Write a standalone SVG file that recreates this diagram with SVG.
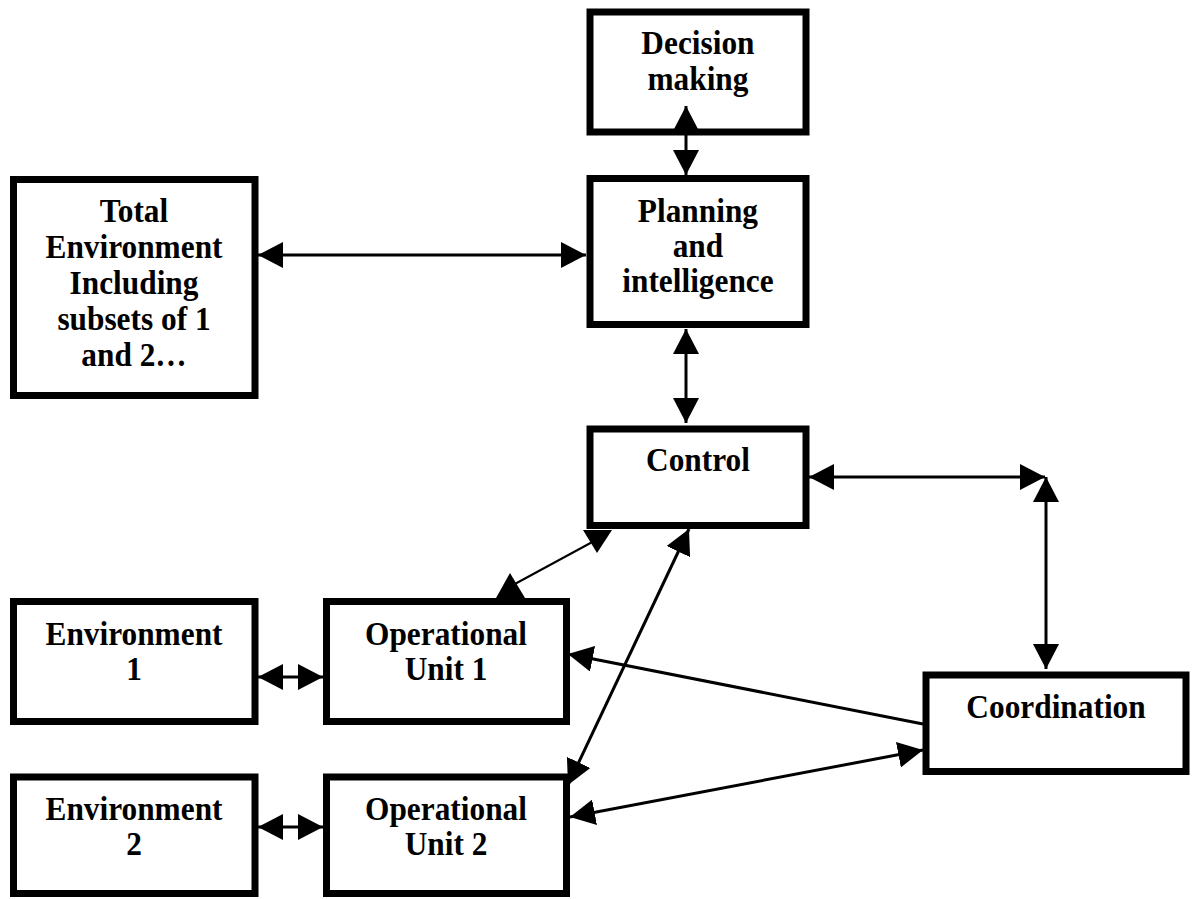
<svg xmlns="http://www.w3.org/2000/svg" width="1192" height="899" viewBox="0 0 1192 899">
<defs>
<style>
.box{fill:#fff;stroke:#000;stroke-width:7}
.lbl{font-family:"Liberation Serif","Times New Roman",serif;font-weight:bold;font-size:33px;fill:#000;text-anchor:middle}
.c{stroke:#000;stroke-width:3;fill:none}
.thin{stroke:#000;stroke-width:2;fill:none}
.head{fill:#000;stroke:none}
</style>
<marker id="ah" viewBox="0 0 25 26" refX="25" refY="13" markerWidth="25" markerHeight="26" markerUnits="userSpaceOnUse" orient="auto-start-reverse">
<path d="M0,0 L25,13 L0,26 z" fill="#000"/>
</marker>
</defs>
<rect width="1192" height="899" fill="#fff"/>

<g id="decision">
<rect class="box" x="590" y="12" width="216" height="120"/>
<text class="lbl" transform="scale(0.95,1)" x="734.7" y="54">Decision</text>
<text class="lbl" transform="scale(0.95,1)" x="734.7" y="90">making</text>
</g>
<g id="planning">
<rect class="box" x="590" y="178.5" width="216" height="146"/>
<text class="lbl" transform="scale(0.95,1)" x="734.7" y="222">Planning</text>
<text class="lbl" transform="scale(0.95,1)" x="734.7" y="257">and</text>
<text class="lbl" transform="scale(0.95,1)" x="734.7" y="292">intelligence</text>
</g>
<g id="total">
<rect class="box" x="13.5" y="179.5" width="241.5" height="216"/>
<text class="lbl" transform="scale(0.95,1)" x="141.05" y="222">Total</text>
<text class="lbl" transform="scale(0.95,1)" x="141.05" y="258">Environment</text>
<text class="lbl" transform="scale(0.95,1)" x="141.05" y="294">Including</text>
<text class="lbl" transform="scale(0.95,1)" x="141.05" y="330">subsets of 1</text>
<text class="lbl" transform="scale(0.95,1)" x="141.05" y="366">and 2…</text>
</g>
<g id="control">
<rect class="box" x="590" y="429" width="216" height="96.5"/>
<text class="lbl" transform="scale(0.95,1)" x="734.7" y="471">Control</text>
</g>
<g id="env1">
<rect class="box" x="13.5" y="601.5" width="241.5" height="120"/>
<text class="lbl" transform="scale(0.95,1)" x="141.05" y="645">Environment</text>
<text class="lbl" transform="scale(0.95,1)" x="141.05" y="680">1</text>
</g>
<g id="op1">
<rect class="box" x="326.5" y="601.5" width="240" height="120"/>
<text class="lbl" transform="scale(0.95,1)" x="469.5" y="645">Operational</text>
<text class="lbl" transform="scale(0.95,1)" x="469.5" y="680">Unit 1</text>
</g>
<g id="env2">
<rect class="box" x="13.5" y="777" width="241.5" height="116.5"/>
<text class="lbl" transform="scale(0.95,1)" x="141.05" y="820">Environment</text>
<text class="lbl" transform="scale(0.95,1)" x="141.05" y="855">2</text>
</g>
<g id="op2">
<rect class="box" x="326.5" y="777" width="240" height="116.5"/>
<text class="lbl" transform="scale(0.95,1)" x="469.5" y="820">Operational</text>
<text class="lbl" transform="scale(0.95,1)" x="469.5" y="855">Unit 2</text>
</g>
<g id="coordination">
<rect class="box" x="926" y="675" width="260" height="96.5"/>
<text class="lbl" transform="scale(0.95,1)" x="1111.6" y="718">Coordination</text>
</g>

<g id="connectors">
<line class="c" x1="686" y1="106" x2="686" y2="175" marker-start="url(#ah)" marker-end="url(#ah)"/>
<line class="c" x1="258" y1="255" x2="586" y2="255" marker-start="url(#ah)" marker-end="url(#ah)"/>
<line class="c" x1="686" y1="329" x2="686" y2="423" marker-start="url(#ah)" marker-end="url(#ah)"/>
<line class="c" x1="809" y1="477" x2="1045" y2="477" marker-start="url(#ah)" marker-end="url(#ah)"/>
<line class="c" x1="1046" y1="477" x2="1046" y2="669" marker-start="url(#ah)" marker-end="url(#ah)"/>
<line class="c" x1="258" y1="677" x2="323" y2="677" marker-start="url(#ah)" marker-end="url(#ah)"/>
<line class="c" x1="258" y1="827" x2="323" y2="827" marker-start="url(#ah)" marker-end="url(#ah)"/>
<line class="thin" x1="513" y1="585" x2="596" y2="540"/>
<polygon class="head" points="510,573 496,598 525,598"/>
<polygon class="head" points="583,530 612,530 597,553"/>
<line class="c" x1="568" y1="785" x2="689" y2="529" marker-start="url(#ah)" marker-end="url(#ah)"/>
<line class="c" x1="568" y1="654" x2="923" y2="724" marker-start="url(#ah)"/>
<line class="c" x1="570" y1="817" x2="923" y2="750" marker-start="url(#ah)" marker-end="url(#ah)"/>
</g>
</svg>
